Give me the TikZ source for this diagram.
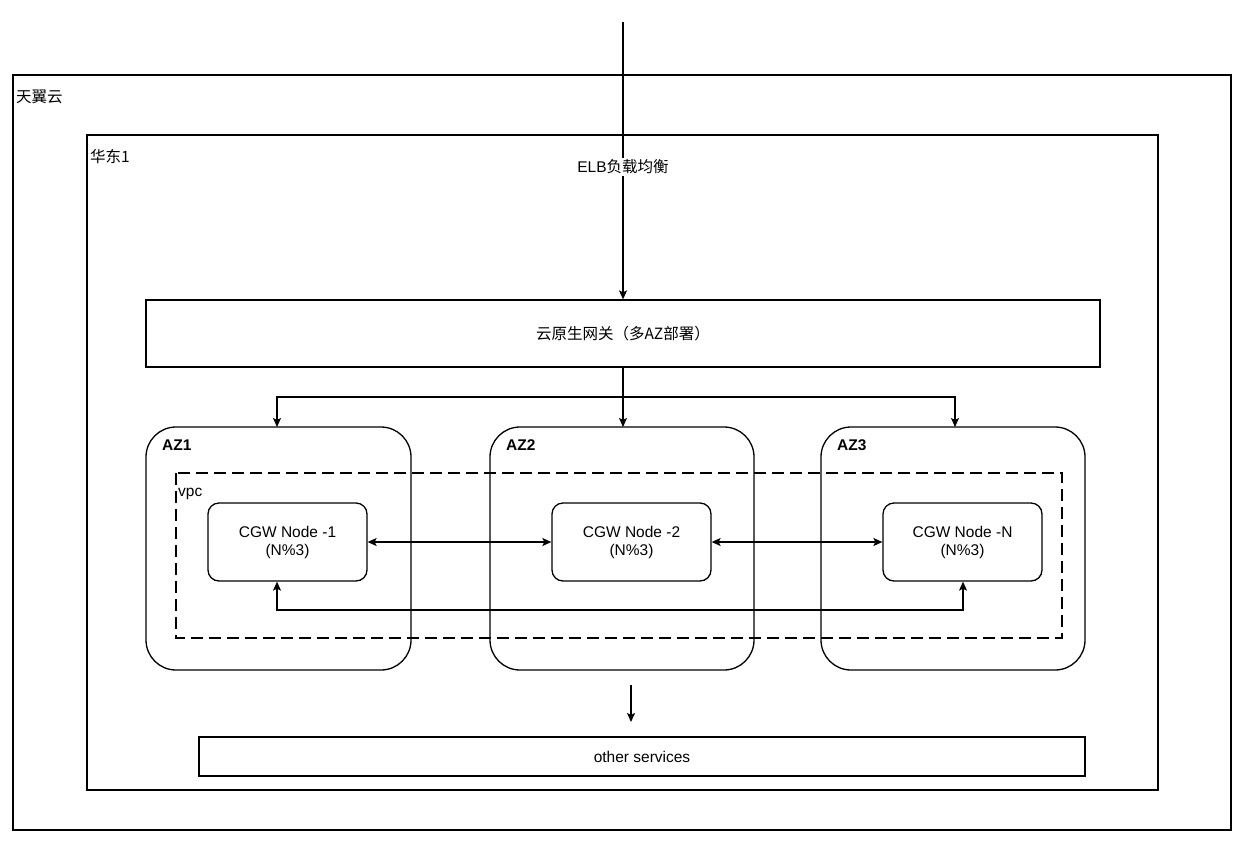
\documentclass[tikz,border=0pt]{standalone}
\usepackage{fontspec}
\setmainfont{Liberation Sans}
\newfontfamily\cjk{Noto Sans CJK SC}
\usetikzlibrary{arrows.meta}
\begin{document}
\begin{tikzpicture}[x=1pt,y=-1pt,
  every node/.style={font=\fontsize{15.5}{18}\selectfont, inner sep=0pt},
  ln/.style={line width=1.3pt, black},
  arr/.style={ln, -{Stealth[length=9pt,width=8pt,inset=2pt]}},
  darr/.style={ln, {Stealth[length=9pt,width=8pt,inset=2pt]}-{Stealth[length=9pt,width=8pt,inset=2pt]}},
  plainbox/.style={ln, draw, rectangle},
  azbox/.style={ln, draw, rectangle, rounded corners=30pt},
  cgw/.style={ln, draw, rectangle, rounded corners=11pt, minimum width=159pt, minimum height=78pt, align=center},
  lbl/.style={anchor=west}
]
\useasboundingbox (0,0) rectangle (1245,844);
\fill[white] (0,0) rectangle (1245,844);

% outer containers
\draw[plainbox] (13,75) rectangle (1231,830);
\node[lbl] (t1) at (16,97) {\cjk 天翼云};
\draw[plainbox] (87,135) rectangle (1158,790);
\node[lbl] (t2) at (90,157) {\cjk 华东1};

% gateway
\node[plainbox, minimum width=954pt, minimum height=67pt] (gw) at (623,333.5) {\cjk 云原生网关（多AZ部署）};

% AZ boxes
\draw[azbox] (146,427) rectangle (411,670);
\draw[azbox] (490,427) rectangle (754,670);
\draw[azbox] (821,427) rectangle (1085,670);
\node[lbl, font=\bfseries\fontsize{15.5}{18}\selectfont] at (162,445) {AZ1};
\node[lbl, font=\bfseries\fontsize{15.5}{18}\selectfont] at (506,445) {AZ2};
\node[lbl, font=\bfseries\fontsize{15.5}{18}\selectfont] at (837,445) {AZ3};
\coordinate (az1t) at (277,427);
\coordinate (az2t) at (623,427);
\coordinate (az3t) at (955,427);

% vpc
\draw[ln, dash pattern=on 12pt off 6pt] (176,473) rectangle (1062,638);
\node[lbl] at (178,494) {vpc};

% CGW nodes
\node[cgw] (n1) at (287.5,542) {CGW Node -1\\(N\%3)};
\node[cgw] (n2) at (631.5,542) {CGW Node -2\\(N\%3)};
\node[cgw] (nn) at (962.5,542) {CGW Node -N\\(N\%3)};

% other services
\node[plainbox, minimum width=886pt, minimum height=39pt] (os) at (642,756.5) {other services};

% ELB line
\coordinate (top) at (623,22);
\draw[arr] (top) -- (gw.north);
\node[fill=white, inner sep=2pt] at (623,167) {ELB{\cjk 负载均衡}};

% gateway to AZs
\coordinate (j) at (623,397);
\draw[ln] (gw.south) -- (j);
\draw[arr] (j) -- (az2t);
\draw[arr] (j) -| (az1t);
\draw[arr] (j) -| (az3t);

% CGW interconnects
\draw[darr] (n1.east) -- (n2.west);
\draw[darr] (n2.east) -- (nn.west);
\draw[darr] (n1.south -| 277,0) -- (277,610) -- (963,610) -- (nn.south -| 963,0);

% to other services
\coordinate (d1) at (631,685);
\coordinate (d2) at (631,722);
\draw[arr] (d1) -- (d2);
\end{tikzpicture}
\end{document}
